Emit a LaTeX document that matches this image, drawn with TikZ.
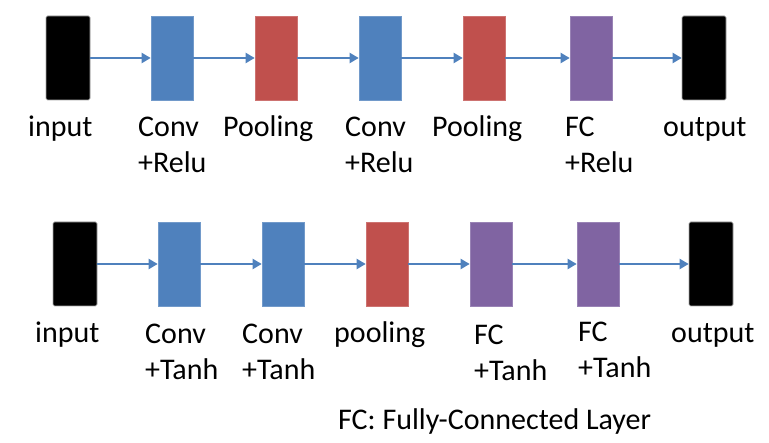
\documentclass[tikz,border=0pt]{standalone}
\usepackage{fontspec}
\setmainfont{Carlito}
\usetikzlibrary{arrows.meta}
\definecolor{convblue}{HTML}{4F81BD}
\definecolor{poolred}{HTML}{C0504D}
\definecolor{fcpurple}{HTML}{8064A2}
\begin{document}
\begin{tikzpicture}[x=1pt, y=-1pt,
  layer/.style={minimum width=42pt, minimum height=84pt, inner sep=0pt, line width=0.6pt},
  conv/.style={layer, fill=convblue, draw=convblue!80!white},
  pool/.style={layer, fill=poolred, draw=poolred!80!white},
  fc/.style={layer, fill=fcpurple, draw=fcpurple!80!white},
  io/.style={layer, minimum width=44pt, fill=black, draw=gray!70, rounded corners=1.5pt},
  lbl/.style={anchor=base west, inner sep=0pt, align=left, font=\fontsize{30}{36.5}\selectfont},
  flow/.style={draw=convblue, line width=2pt, -{Triangle[length=9pt, width=10pt]}}]
  \useasboundingbox (0,0) rectangle (769,443);
  % top row
  \node[io]   (in1)   at (68,58)  {};
  \node[conv] (conv1) at (172,58) {};
  \node[pool] (pool1) at (276,58) {};
  \node[conv] (conv2) at (380,58) {};
  \node[pool] (pool2) at (484,58) {};
  \node[fc]   (fc1)   at (591,58) {};
  \node[io]   (out1)  at (704,58) {};
  \draw[flow] (in1) -- (conv1);
  \draw[flow] (conv1) -- (pool1);
  \draw[flow] (pool1) -- (conv2);
  \draw[flow] (conv2) -- (pool2);
  \draw[flow] (pool2) -- (fc1);
  \draw[flow] (fc1) -- (out1);
  % labels (two-line ones sit on their second line)
  \node[lbl] (lin1)    at (28,137)  {input};
  \node[lbl] (lconv1)  at (138,173) {Conv\\+Relu};
  \node[lbl] (lpool1)  at (223,137) {Pooling};
  \node[lbl] (lconv2)  at (345,173) {Conv\\+Relu};
  \node[lbl] (lpool2)  at (432,137) {Pooling};
  \node[lbl] (lfc1)    at (565,173) {FC\\+Relu};
  \node[lbl] (lout1)   at (663,137) {output};
  % bottom row
  \node[io]   (in2)   at (75,264)  {};
  \node[conv] (conv3) at (179,264) {};
  \node[conv] (conv4) at (283,264) {};
  \node[pool] (pool3) at (387,264) {};
  \node[fc]   (fc2)   at (491,264) {};
  \node[fc]   (fc3)   at (598,264) {};
  \node[io]   (out2)  at (711,264) {};
  \draw[flow] (in2) -- (conv3);
  \draw[flow] (conv3) -- (conv4);
  \draw[flow] (conv4) -- (pool3);
  \draw[flow] (pool3) -- (fc2);
  \draw[flow] (fc2) -- (fc3);
  \draw[flow] (fc3) -- (out2);
  \node[lbl] (lin2)    at (35,343)  {input};
  \node[lbl] (lconv3)  at (145,380) {Conv\\+Tanh};
  \node[lbl] (lconv4)  at (242,380) {Conv\\+Tanh};
  \node[lbl] (lpool3)  at (334,343) {pooling};
  \node[lbl] (lfc2)    at (474,381) {FC\\+Tanh};
  \node[lbl] (lfc3)    at (578,378) {FC\\+Tanh};
  \node[lbl] (lout2)   at (671,343) {output};
  \node[lbl] (note)    at (338,430) {FC: Fully-Connected Layer};
\end{tikzpicture}
\end{document}
